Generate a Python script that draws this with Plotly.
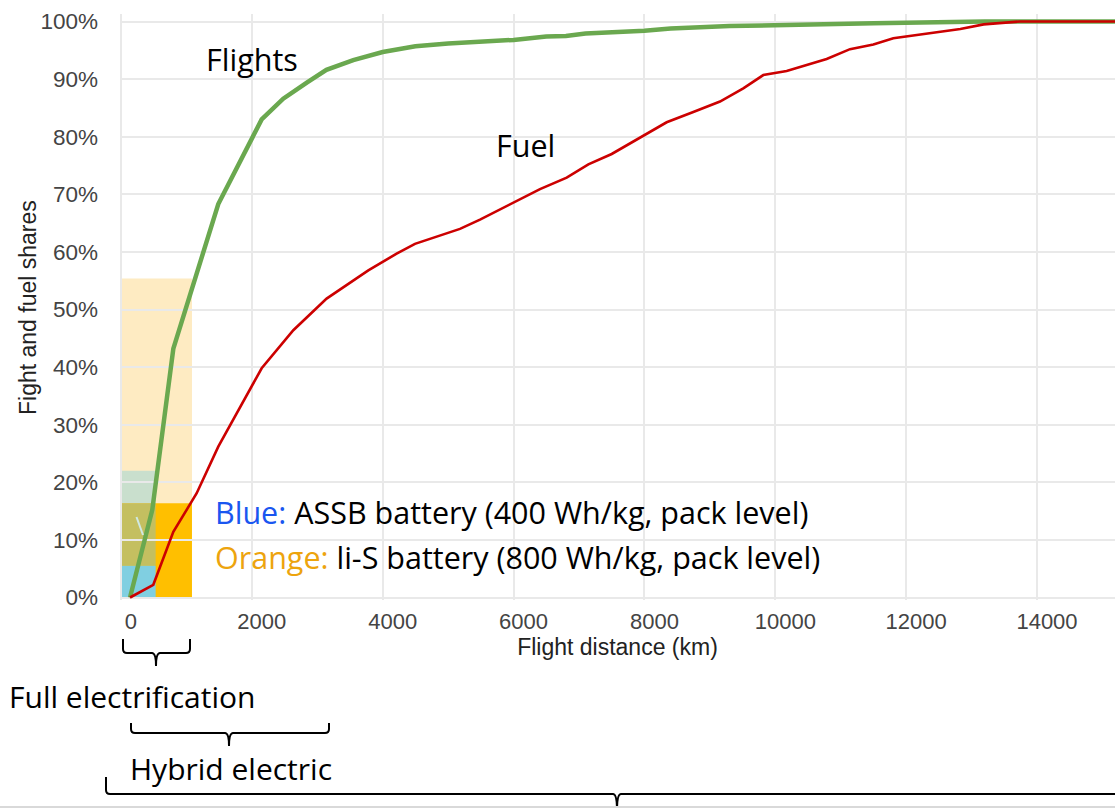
import plotly.graph_objects as go

# ---------------- data ----------------
flight_km = [138, 478, 800, 1487, 2150, 2480, 2840, 3140, 3550, 4000, 4500, 5000,
             6000, 6500, 6800, 7100, 8000, 8400, 9300, 10400, 11500, 13200, 15200]
flight_share = [0.0, 0.152, 0.432, 0.683, 0.830, 0.866, 0.894, 0.916, 0.933, 0.947,
                0.957, 0.962, 0.968, 0.974, 0.975, 0.979, 0.984, 0.988, 0.992, 0.995,
                0.997, 1.0, 1.0]

fuel_km = [138, 494, 800, 1157, 1487, 2150, 2634, 3143, 3780, 4213, 4493, 4875, 5181,
           5487, 5996, 6404, 6812, 7143, 7500, 7983, 8340, 8747, 9155, 9511, 9817,
           10174, 10785, 11142, 11499, 11804, 12160, 12828, 13184, 13740, 15200]
fuel_share = [0.0, 0.022, 0.114, 0.181, 0.262, 0.398, 0.464, 0.519, 0.568, 0.597, 0.614,
              0.628, 0.640, 0.656, 0.686, 0.709, 0.729, 0.752, 0.770, 0.802, 0.825,
              0.843, 0.861, 0.884, 0.907, 0.914, 0.935, 0.952, 0.960, 0.971, 0.977,
              0.987, 0.995, 1.0, 1.0]

# battery ranges (km) and shares covered
assb_range_km = 530
lis_range_km = 1085
assb_full_share = 0.055
assb_hybrid_share = 0.220
lis_full_share = 0.1635
lis_hybrid_share = 0.554

x_ticks = [0, 2000, 4000, 6000, 8000, 10000, 12000, 14000]
y_ticks = [0, 0.1, 0.2, 0.3, 0.4, 0.5, 0.6, 0.7, 0.8, 0.9, 1.0]
y_tick_text = ["0%", "10%", "20%", "30%", "40%", "50%", "60%", "70%", "80%", "90%", "100%"]

# ---------------- layout geometry ----------------
W, H = 1115, 808
ML, MR, MT, MB = 120, 0, 14, 208
PW, PH = W - ML - MR, H - MT - MB


def px(x):
    return (x - ML) / PW


def py(y):
    return (H - MB - y) / PH


fig = go.Figure()

fig.add_trace(go.Scatter(x=flight_km, y=flight_share, mode="lines", name="Flights",
                         line=dict(color="#6aa84f", width=4.5)))
fig.add_trace(go.Scatter(x=fuel_km, y=fuel_share, mode="lines", name="Fuel",
                         line=dict(color="#cc0000", width=2.6)))

shapes = []
# shaded battery regions (data coordinates)
rects = [
    (0, lis_range_km, 0, lis_hybrid_share, "#feebc2"),
    (0, lis_range_km, 0, lis_full_share, "#ffbf00"),
    (0, assb_range_km, lis_full_share, assb_hybrid_share, "#c9dfcd"),
    (0, assb_range_km, assb_full_share, lis_full_share, "#c4bf60"),
    (0, assb_range_km, 0, assb_full_share, "#80cfe1"),
]
for x0, x1, y0, y1, c in rects:
    shapes.append(dict(type="rect", xref="x", yref="y", x0=x0, x1=x1, y0=y0, y1=y1,
                       fillcolor=c, line=dict(width=0), layer="below"))

# faint stroke inside the olive block
shapes.append(dict(type="line", xref="paper", yref="paper",
                   x0=px(136.5), y0=py(517), x1=px(143), y1=py(535),
                   line=dict(color="#cfe9e4", width=2)))


def brace(xl, xr, xc, ytop, yh, ytip, r=4):
    pts = (f"M {px(xl)},{py(ytop)} L {px(xl)},{py(yh - r)} "
           f"Q {px(xl)},{py(yh)} {px(xl + r)},{py(yh)} "
           f"L {px(xc - r)},{py(yh)} Q {px(xc)},{py(yh)} {px(xc)},{py(ytip)} "
           f"Q {px(xc)},{py(yh)} {px(xc + r)},{py(yh)} "
           f"L {px(xr - r)},{py(yh)} Q {px(xr)},{py(yh)} {px(xr)},{py(yh - r)} "
           f"L {px(xr)},{py(ytop)}")
    return dict(type="path", xref="paper", yref="paper", path=pts,
                line=dict(color="#000000", width=2))


shapes.append(brace(123, 190, 156, 639, 653, 666))
shapes.append(brace(131, 329, 229, 723, 733, 746))
shapes.append(brace(106, 1140, 617, 777, 794, 810))
# page border line at the very bottom
shapes.append(dict(type="line", xref="paper", yref="paper", x0=px(0), x1=px(W),
                   y0=py(807), y1=py(807), line=dict(color="#d9d9d9", width=2)))


def big(size):
    return dict(family="Open Sans", size=size, color="#000000")


annotations = [
    dict(text="Flights", x=px(204), y=py(59), xanchor="left", yanchor="middle", font=big(30.5)),
    dict(text="Fuel", x=px(494), y=py(145), xanchor="left", yanchor="middle", font=big(30.5)),
    dict(text="<span style='color:#1a56f0'>Blue:</span> ASSB battery (400 Wh/kg, pack level)",
         x=px(213), y=py(512), xanchor="left", yanchor="middle", font=big(30.5)),
    dict(text="<span style='color:#eda40d'>Orange:</span> li-S battery (800 Wh/kg, pack level)",
         x=px(213), y=py(557), xanchor="left", yanchor="middle", font=big(30.5)),
    dict(text="Full electrification", x=px(132), y=py(696), xanchor="center", yanchor="middle",
         font=big(30)),
    dict(text="Hybrid electric", x=px(231), y=py(768), xanchor="center", yanchor="middle",
         font=big(30)),
    dict(text="Fight and fuel shares", x=px(28), y=py(308), xanchor="center", yanchor="middle",
         textangle=-90, font=dict(family="Liberation Sans", size=23, color="#222222")),
]
for a in annotations:
    a.update(xref="paper", yref="paper", showarrow=False)

fig.update_layout(
    width=W, height=H,
    margin=dict(l=ML, r=MR, t=MT, b=MB, pad=0),
    paper_bgcolor="white", plot_bgcolor="white",
    showlegend=False,
    shapes=shapes, annotations=annotations,
    xaxis=dict(range=[-15, 15192], tickvals=x_ticks, ticktext=[str(v) for v in x_ticks],
               showgrid=True, gridcolor="#e9e9e9", gridwidth=1.5,
               zeroline=True, zerolinecolor="#e9e9e9", zerolinewidth=1.5,
               showline=False, ticks="", ticklabelshift=10, ticklabelstandoff=6,
               tickfont=dict(family="Liberation Sans", size=22, color="#444444"),
               title=dict(text="Flight distance (km)", standoff=2,
                          font=dict(family="Liberation Sans", size=23, color="#222222"))),
    yaxis=dict(range=[-0.00434, 1.01302], tickvals=y_ticks, ticktext=y_tick_text,
               showgrid=True, gridcolor="#e9e9e9", gridwidth=1.5,
               zeroline=True, zerolinecolor="#e9e9e9", zerolinewidth=1.5,
               showline=False, ticks="", ticklabelstandoff=21,
               tickfont=dict(family="Liberation Sans", size=22.5, color="#444444")),
)

fig.write_html("out.html")
